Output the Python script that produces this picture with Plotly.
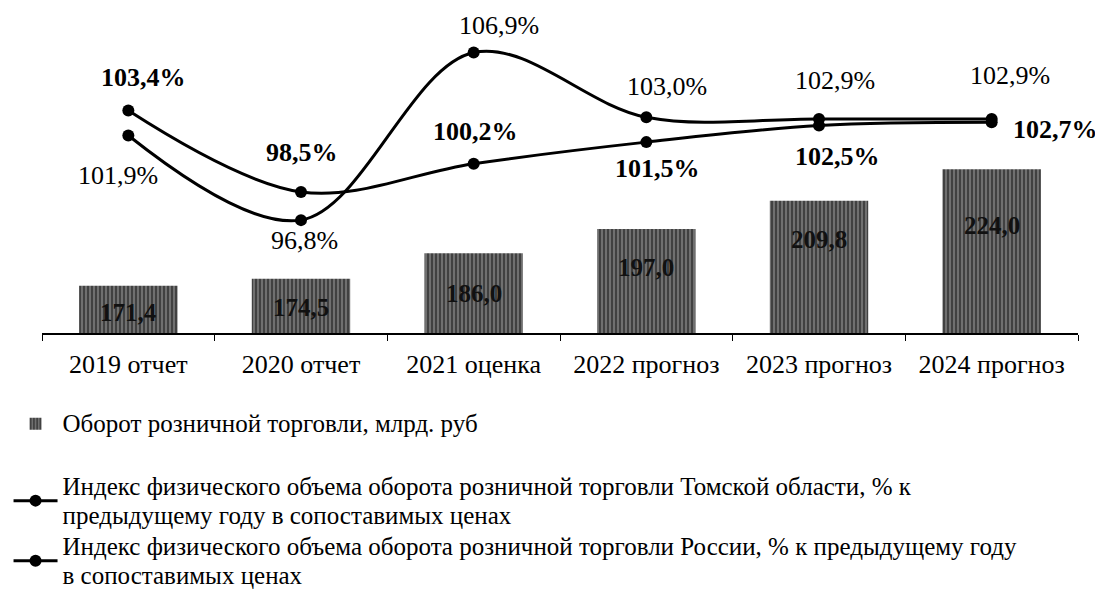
import plotly.graph_objects as go

categories = ["2019 отчет", "2020 отчет", "2021 оценка", "2022 прогноз", "2023 прогноз", "2024 прогноз"]
turnover = [171.4, 174.5, 186.0, 197.0, 209.8, 224.0]
tomsk_index = [103.4, 98.5, 100.2, 101.5, 102.5, 102.7]
russia_index = [101.9, 96.8, 106.9, 103.0, 102.9, 102.9]

name_bar_lines = ["Оборот розничной торговли, млрд. руб"]
name_tomsk_lines = ["Индекс физического объема оборота розничной торговли Томской области, % к",
                    "предыдущему году в сопоставимых ценах"]
name_russia_lines = ["Индекс физического объема оборота розничной торговли России, % к предыдущему году",
                     "в сопоставимых ценах"]

FONT = "Liberation Serif"

# label offsets (pixels) - styling only
tomsk_shift = [(15, 33), (1, 39), (2, 32), (11, -26), (18, -31), (64, -7)]
russia_shift = [(-10, -40), (3, -20), (25, 27), (21, 31), (16, 38), (18, 43)]
bar_label_shift = [-27, -29, -40, -39, -39, -56]


def fmt(v, pct=True):
    s = f"{v:.1f}".replace(".", ",")
    return s + "%" if pct else s


def legend_name(lines):
    return "<br>".join('<span style="font-size:25px">' + ln + "</span>" for ln in lines)


fig = go.Figure()

fig.add_trace(go.Bar(
    x=categories, y=turnover, name=legend_name(name_bar_lines), yaxis="y",
    width=0.57,
    marker=dict(color="#707070", line=dict(width=0),
                pattern=dict(shape="|", fgcolor="#111111", size=4, solidity=0.5, fillmode="overlay")),
    legendgroup="g1",
))

for vals, lines in ((tomsk_index, name_tomsk_lines), (russia_index, name_russia_lines)):
    fig.add_trace(go.Scatter(
        x=categories, y=vals, name=legend_name(lines), yaxis="y2",
        mode="lines+markers",
        line=dict(color="black", width=3, shape="spline", smoothing=1),
        marker=dict(color="black", size=12),
        legendgroup="g2",
    ))

annotations = []
for c, v, (dx, dy) in zip(categories, tomsk_index, tomsk_shift):
    annotations.append(dict(x=c, y=v, xref="x", yref="y2", text="<b>" + fmt(v) + "</b>",
                            showarrow=False, xshift=dx, yshift=dy,
                            font=dict(family=FONT, size=26, color="black")))
for c, v, (dx, dy) in zip(categories, russia_index, russia_shift):
    annotations.append(dict(x=c, y=v, xref="x", yref="y2", text=fmt(v),
                            showarrow=False, xshift=dx, yshift=dy,
                            font=dict(family=FONT, size=26, color="black")))
for c, v, dy in zip(categories, turnover, bar_label_shift):
    annotations.append(dict(x=c, y=v, xref="x", yref="y", text="<b>" + fmt(v, False) + "</b>",
                            showarrow=False, yshift=dy,
                            font=dict(family=FONT, size=25, color="#111111")))

# page body has an 8px margin, so the figure is sized to fit the window
fig.update_layout(
    width=1095, height=589,
    margin=dict(l=34, r=25, t=0, b=264),
    paper_bgcolor="white", plot_bgcolor="white",
    font=dict(family=FONT, color="black"),
    xaxis=dict(type="category", range=[-0.5, 5.5], autorange=False,
               showline=True, linecolor="black", linewidth=1.5,
               ticks="outside", tickson="boundaries", ticklen=6, tickcolor="black",
               tickfont=dict(family=FONT, size=26, color="black"),
               ticklabelstandoff=7, showgrid=False, zeroline=False),
    yaxis=dict(range=[150, 296.86], visible=False, showgrid=False, zeroline=False),
    yaxis2=dict(range=[90, 109.58], overlaying="y", side="right", visible=False,
                showgrid=False, zeroline=False),
    showlegend=True,
    legend=dict(x=-0.0323, xanchor="left", y=-0.809, yanchor="bottom",
                orientation="v", traceorder="grouped", tracegroupgap=31,
                font=dict(family=FONT, size=22, color="black"),
                itemwidth=44, bgcolor="rgba(0,0,0,0)"),
    annotations=annotations,
)

fig.write_html("out.html")
